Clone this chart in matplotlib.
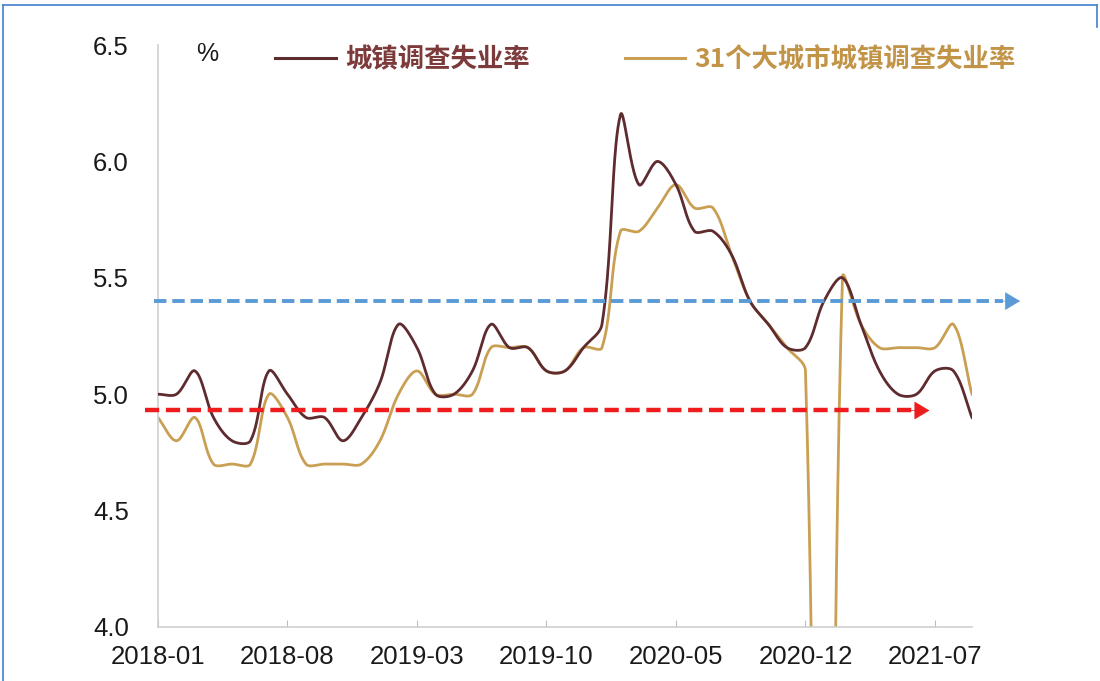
import numpy as np
import matplotlib
matplotlib.use("Agg")
import matplotlib.pyplot as plt
from matplotlib.lines import Line2D

plt.rcParams['font.family'] = ['Liberation Sans', 'Noto Sans CJK SC', 'DejaVu Sans']

# monthly, 2018-01 .. 2021-09
months = [f"{y}-{m:02d}" for y in range(2018, 2022) for m in range(1, 13)][:45]
urban = [5.0, 5.0, 5.1, 4.9, 4.8, 4.8, 5.1, 5.0, 4.9, 4.9, 4.8, 4.9,
         5.05, 5.3, 5.2, 5.0, 5.0, 5.1, 5.3, 5.2, 5.2, 5.1, 5.1, 5.2,
         5.3, 6.2, 5.9, 6.0, 5.9, 5.7, 5.7, 5.6, 5.4, 5.3, 5.2, 5.2,
         5.4, 5.5, 5.3, 5.1, 5.0, 5.0, 5.1, 5.1, 4.9]
city31 = [4.9, 4.8, 4.9, 4.7, 4.7, 4.7, 5.0, 4.9, 4.7, 4.7, 4.7, 4.7,
          4.8, 5.0, 5.1, 5.0, 5.0, 5.0, 5.2, 5.2, 5.2, 5.1, 5.1, 5.2,
          5.2, 5.7, 5.7, 5.8, 5.9, 5.8, 5.8, 5.6, 5.4, 5.3, 5.2, 5.1,
          0.0, 5.5, 5.3, 5.2, 5.2, 5.2, 5.2, 5.3, 5.0]
tick_labels = ["2018-01", "2018-08", "2019-03", "2019-10", "2020-05", "2020-12", "2021-07"]
labels = ["城镇调查失业率", "31个大城市城镇调查失业率"]
blue_level = 5.4
red_level = 4.93

C_URBAN = "#5e2b2e"
C_CITY = "#c99f54"
T_URBAN = "#7c3a3a"
T_CITY = "#c29448"


def smooth(ax, y, n=40):
    """Excel-style smoothed line: Bezier segments whose tangents are scaled
    by the on-screen lengths of the neighbouring segments."""
    pts = ax.transData.transform(np.column_stack([np.arange(len(y)), y]))
    m = len(pts)
    d = np.hypot(*np.diff(pts, axis=0).T)
    out = [pts[:1]]
    t = np.linspace(0, 1, n)[1:, None]
    for i in range(m - 1):
        p1, p2 = pts[i], pts[i + 1]
        p0 = pts[i - 1] if i > 0 else p1
        p3 = pts[i + 2] if i + 2 < m else p2
        dp = d[i - 1] if i > 0 else 0.0
        dn = d[i + 1] if i + 2 < m else 0.0
        f1 = d[i] / (dp + d[i]) if dp + d[i] > 0 else 0.0
        f2 = d[i] / (d[i] + dn) if d[i] + dn > 0 else 0.0
        c1 = p1 + (p2 - p0) * f1 / 3.0
        c2 = p2 - (p3 - p1) * f2 / 3.0
        seg = ((1 - t) ** 3) * p1 + 3 * ((1 - t) ** 2) * t * c1 + 3 * (1 - t) * t ** 2 * c2 + t ** 3 * p2
        out.append(seg)
    curve = ax.transData.inverted().transform(np.vstack(out))
    return curve[:, 0], curve[:, 1]


fig = plt.figure(figsize=(11, 6.81), dpi=100)
ax = fig.add_axes([0.1436, 0.0793, 0.74, 0.8546])
ax.set_xlim(0, len(months) - 1)
ax.set_ylim(4.0, 6.5)

ax.plot(*smooth(ax, urban), color=C_URBAN, lw=2.0, zorder=3)
ax.plot(*smooth(ax, city31), color=C_CITY, lw=2.0, zorder=2)

# horizontal dashed arrows
for lvl, col, x0, x1, lw in [(blue_level, "#5b9bd5", -0.2, 46.6, 2.8),
                             (red_level, "#ee1c1c", -0.7, 41.7, 3.2)]:
    ax.plot([x0, x1 - 0.9], [lvl, lvl], color=col, lw=lw, dashes=(3.2, 1.5),
            clip_on=False, zorder=4)
    ax.annotate("", xy=(x1, lvl), xytext=(x1 - 1.0, lvl), annotation_clip=False,
                arrowprops=dict(arrowstyle="-|>,head_length=1.0,head_width=0.6",
                                color=col, lw=0.5, shrinkA=0, shrinkB=0), zorder=4)

ax.set_yticks([4.0, 4.5, 5.0, 5.5, 6.0, 6.5])
ax.set_yticklabels([f"{v:.1f}" for v in [4.0, 4.5, 5.0, 5.5, 6.0, 6.5]])
ax.set_xticks([months.index(m) for m in tick_labels])
ax.set_xticklabels(tick_labels)
ax.tick_params(axis="x", direction="in", length=5, color="#bdbdbd", labelsize=18.5, pad=13,
               labelcolor="#1a1a1a")
ax.tick_params(axis="y", direction="out", length=0, labelsize=18.5, pad=21, labelcolor="#1a1a1a")
for s in ["top", "right"]:
    ax.spines[s].set_visible(False)
for s in ["left", "bottom"]:
    ax.spines[s].set_color("#cfcfcf")
    ax.spines[s].set_linewidth(1.2)

ax.text(0.06, 1.005, "%", transform=ax.transAxes, fontsize=18, va="top", ha="center",
        color="#1a1a1a")

handles = [Line2D([], [], color=C_URBAN, lw=2.2), Line2D([], [], color=C_CITY, lw=2.2)]
leg = fig.legend(handles, labels, loc="center left", bbox_to_anchor=(0.25, 0.912), ncol=2,
                 frameon=False, borderpad=0, borderaxespad=0, handlelength=2.3,
                 handletextpad=0.35, columnspacing=3.6,
                 prop=dict(family=["Noto Sans CJK SC", "DejaVu Sans"], size=19, weight="bold"))
for t, c in zip(leg.get_texts(), [T_URBAN, T_CITY]):
    t.set_color(c)

# thin blue frame of the original picture
fig.add_artist(Line2D([0.003, 0.003], [0, 0.992], color="#3f7fd0", lw=1.2, transform=fig.transFigure))
fig.add_artist(Line2D([0.003, 0.997], [0.992, 0.992], color="#3f7fd0", lw=1.2, transform=fig.transFigure))
fig.add_artist(Line2D([0.997, 0.997], [0.96, 0.992], color="#3f7fd0", lw=1.2, transform=fig.transFigure))

fig.savefig("out.png", dpi=100)
